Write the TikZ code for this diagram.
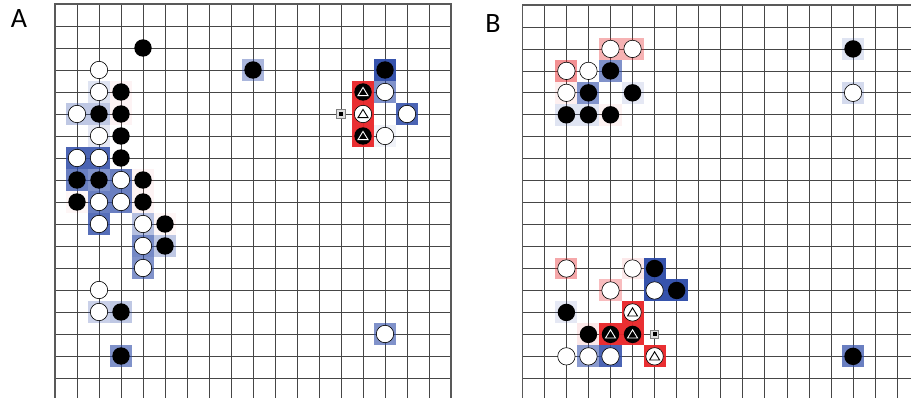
\documentclass[tikz,border=0pt]{standalone}
\usepackage{fontspec}
\setmainfont{Carlito}
\definecolor{bl}{RGB}{44,74,168}
\definecolor{rd}{RGB}{232,36,40}
\definecolor{gridc}{RGB}{70,70,70}
\tikzset{
  gridline/.style={draw=gridc, line width=0.75pt},
  boardedge/.style={draw=gray!70!black, line width=1.6pt},
  bstone/.style={circle, fill=black, minimum size=17.4pt, inner sep=0pt},
  wstone/.style={circle, fill=white, draw=black, line width=0.6pt, minimum size=17.4pt, inner sep=0pt},
  trimark/.style={line width=0.9pt, line join=miter},
  sqmark/.style={rectangle, draw=gray, fill=gray!25, line width=0.8pt, minimum size=8.5pt, inner sep=0pt},
  paneltitle/.style={font=\fontsize{28}{30}\selectfont, inner sep=0pt}
}
\newcommand{\bgcells}[1]{%
  \foreach \c/\r/\col/\op in {#1}
    \fill[\col, fill opacity=\op] (\c-0.5,\r-0.5) rectangle (\c+0.5,\r+0.5);}
\newcommand{\stones}[3]{% prefix, style, list
  \foreach \c/\r in {#3}
    \node[#2] (#1-\c-\r) at (\c,\r) {};}
\newcommand{\tris}[2]{% colour, list
  \foreach \c/\r in {#2}
    \draw[trimark, #1, shift={(\c,\r)}] (-5pt,-3.6pt) -- (5pt,-3.6pt) -- (0pt,4.6pt) -- cycle;}
\begin{document}
\begin{tikzpicture}[x=1pt, y=-1pt]
\useasboundingbox (0,0) rectangle (911,398);
\clip (0,0) rectangle (911,398);
\fill[white] (0,0) rectangle (911,398);

\node[paneltitle] (labA) at (19,19) {A};
\node[paneltitle] (labB) at (493,24) {B};

% ---------------- Board A ----------------
\begin{scope}[xshift=55pt, yshift=-4pt, x=22pt, y=-22pt]
  \foreach \c in {1,...,17} \draw[gridline] (\c,0) -- (\c,18.5);
  \foreach \r in {1,...,17} \draw[gridline] (0,\r) -- (18,\r);
  \draw[boardedge] (0,18.5) -- (0,0) -- (18,0) -- (18,18.5);
  \bgcells{2/4/bl/.15, 3/4/rd/.05, 1/5/bl/.3, 2/5/bl/.3, 3/5/rd/.05, 2/6/bl/.12,
    1/7/bl/.85, 2/7/bl/.85, 1/8/bl/.7, 2/8/bl/.6, 3/8/bl/.7, 4/8/rd/.05,
    1/9/rd/.04, 2/9/bl/.7, 3/9/bl/.7, 4/9/rd/.05, 2/10/bl/.8, 4/10/bl/.35, 5/10/rd/.04,
    4/11/bl/.65, 5/11/bl/.3, 4/12/bl/.6, 2/14/bl/.25, 3/14/bl/.3, 3/16/bl/.6,
    9/3/bl/.4, 15/3/bl/.95, 14/4/rd/.95, 14/5/rd/.95, 14/6/rd/.95, 15/4/bl/.6,
    16/5/bl/.85, 15/6/bl/.07, 15/15/bl/.6}
  \stones{a}{bstone}{4/2, 3/4, 2/5, 3/5, 3/6, 3/7, 1/8, 2/8, 4/8, 1/9, 4/9, 5/10, 5/11,
    3/14, 3/16, 9/3, 15/3, 14/4, 14/6}
  \stones{a}{wstone}{2/3, 2/4, 1/5, 2/6, 1/7, 2/7, 3/8, 2/9, 3/9, 2/10, 4/10, 4/11, 4/12,
    2/13, 2/14, 15/4, 16/5, 15/6, 15/15, 14/5}
  \tris{white}{14/4, 14/6}
  \tris{black}{14/5}
  \node[sqmark] (a-mark) at (13,5) {};
  \fill[black] ([shift={(-2pt,-2pt)}]a-mark.center) rectangle ([shift={(2pt,2pt)}]a-mark.center);
\end{scope}

% ---------------- Board B ----------------
\begin{scope}[xshift=522.3pt, yshift=-5pt, x=22.05pt, y=-21.96pt]
  \foreach \c in {1,...,17} \draw[gridline] (\c,0) -- (\c,18.5);
  \foreach \r in {1,...,17} \draw[gridline] (0,\r) -- (18,\r);
  \draw[boardedge] (0,18.5) -- (0,0) -- (18,0) -- (18,18.5);
  \bgcells{4/2/rd/.35, 5/2/rd/.35, 2/3/rd/.5, 4/3/bl/.6, 2/4/rd/.07, 3/4/bl/.6,
    5/4/bl/.12, 2/5/bl/.15, 3/5/bl/.15, 4/5/rd/.06, 15/2/bl/.15, 15/4/bl/.2,
    2/12/rd/.4, 5/12/rd/.1, 6/12/bl/.95, 4/13/rd/.3, 6/13/bl/.95, 7/13/bl/.95,
    2/14/bl/.12, 5/14/rd/.95, 3/15/rd/.1, 4/15/rd/.95, 5/15/rd/.95,
    3/16/bl/.55, 4/16/bl/.85, 6/16/rd/.95, 15/16/bl/.7}
  \stones{b}{bstone}{4/3, 3/4, 5/4, 2/5, 3/5, 4/5, 15/2, 6/12, 7/13, 2/14, 3/15,
    15/16, 4/15, 5/15}
  \stones{b}{wstone}{4/2, 5/2, 2/3, 3/3, 2/4, 15/4, 2/12, 5/12, 4/13, 6/13, 2/16,
    3/16, 4/16, 5/14, 6/16}
  \tris{white}{4/15, 5/15}
  \tris{black}{5/14, 6/16}
  \node[sqmark] (b-mark) at (6,15) {};
  \fill[black] ([shift={(-2pt,-2pt)}]b-mark.center) rectangle ([shift={(2pt,2pt)}]b-mark.center);
\end{scope}
\end{tikzpicture}
\end{document}
